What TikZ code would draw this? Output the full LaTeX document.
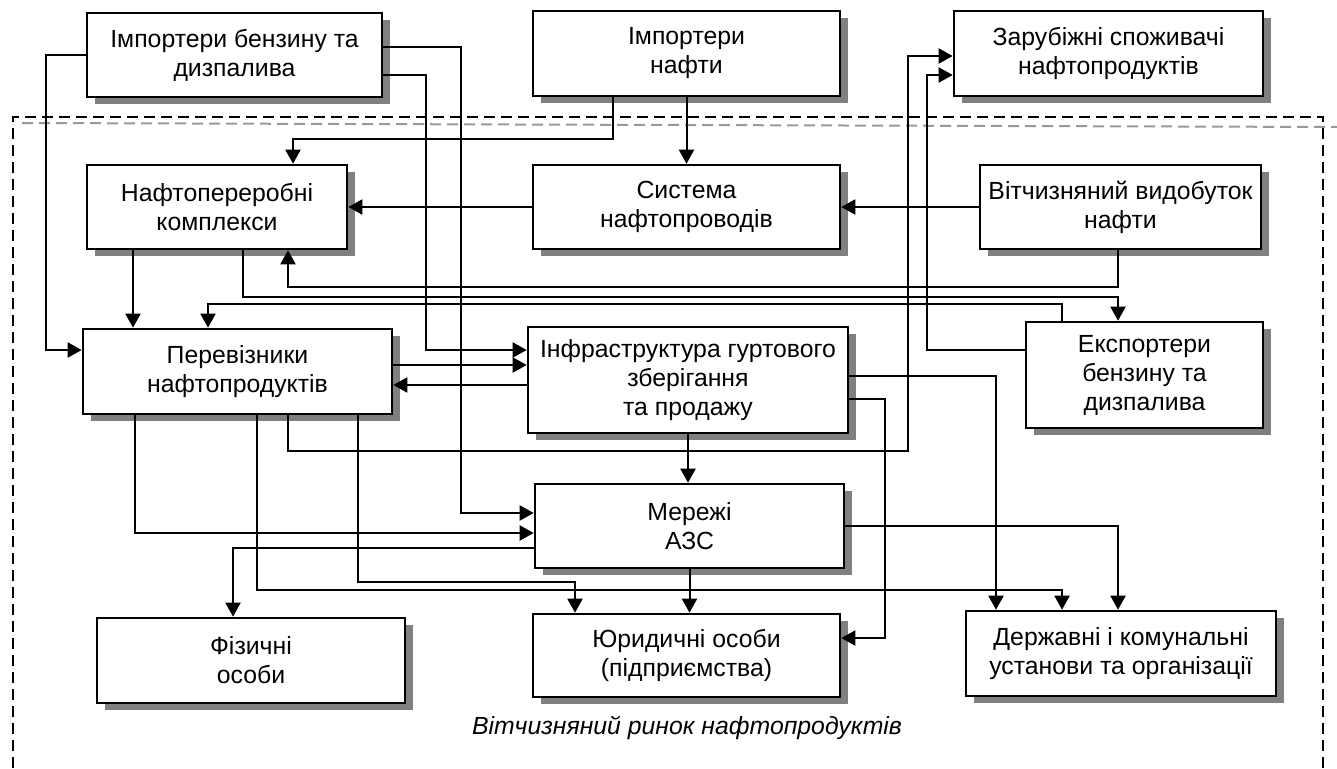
\documentclass[tikz,border=0pt]{standalone}
\usepackage{fontspec}
\setmainfont{Liberation Sans}
\usetikzlibrary{arrows.meta,shadows}

\begin{document}
\begin{tikzpicture}[%
      x=1pt, y=-1pt,
      every node/.style={align=center, font={\fontsize{24.8}{29}\selectfont}},
      unit/.style={draw, line width=2.6pt, fill=white, inner sep=2pt,
                   drop shadow={shadow xshift=8pt, shadow yshift=-7pt,
                                fill=black!50, opacity=1}},
      link/.style={line width=2pt, -{Triangle[length=14pt,width=15pt]}},
      marketframe/.style={line width=2pt, dash pattern=on 11pt off 6pt}
    ]
    \useasboundingbox (0,0) rectangle (1337,768);
    % market frame
    \draw [marketframe] (13,768) -- (13,117) -- (1323,117) -- (1323,768);
    \draw [marketframe, black!40] (22,123) -- (1337,127);

    \node [unit, minimum width=295pt, minimum height=84pt] (IB) at (234.5,55)
     {Імпортери бензину та\\дизпалива};
    \node [unit, minimum width=307pt, minimum height=85pt] (IN) at (686.5,53.5)
     {Імпортери\\нафти};
    \node [unit, minimum width=309pt, minimum height=85pt] (ZS) at (1108.5,53.5)
     {Зарубіжні споживачі\\нафтопродуктів};
    \node [unit, minimum width=260pt, minimum height=84pt] (NK) at (217,207)
     {Нафтопереробні\\комплекси};
    \node [unit, minimum width=307pt, minimum height=84pt] (SN) at (686.5,207)
     {Система\\нафтопроводів};
    \node [unit, minimum width=281pt, minimum height=84pt] (VV) at (1120.5,207)
     {Вітчизняний видобуток\\нафти};
    \node [unit, minimum width=309pt, minimum height=85pt] (PN) at (237.5,371.5)
     {Перевізники\\нафтопродуктів};
    \node [unit, minimum width=320pt, minimum height=106pt] (IG) at (688,380)
     {Інфраструктура гуртового\\зберігання\\та продажу};
    \node [unit, minimum width=237pt, minimum height=106pt] (EB) at (1144.5,375)
     {Експортери\\бензину та\\дизпалива};
    \node [unit, minimum width=309pt, minimum height=84pt] (MA) at (689.5,526)
     {Мережі\\АЗС};
    \node [unit, minimum width=308pt, minimum height=85pt] (FO) at (251,660.5)
     {Фізичні\\особи};
    \node [unit, minimum width=307pt, minimum height=83pt] (YO) at (686.5,655.5)
     {Юридичні особи\\(підприємства)};
    \node [unit, minimum width=310pt, minimum height=85pt] (DK) at (1121,653.5)
     {Державні і комунальні\\установи та організації};
    \node [font={\fontsize{24.8}{29}\selectfont\itshape}] (market) at (687,728)
     {Вітчизняний ринок нафтопродуктів};

    \draw [link] (IB.west) -- ++(-40,0) |- ([yshift=21.5pt]PN.west);
    \draw [link] ([yshift=8pt]IB.east) -- ++(78,0) |- ([yshift=13pt]MA.west);
    \draw [link] ([yshift=-20pt]IB.east) -- ++(43,0) |- ([yshift=30pt]IG.west);
    \draw [link] ([xshift=-73.5pt]IN.south) -- ++(0,42) -| ([xshift=76pt]NK.north);
    \draw [link] (IN.south) -- (SN.north);
    \draw [link] (SN.west) -- (NK.east);
    \draw [link] (VV.west) -- (SN.east);
    \draw [link] ([xshift=-2.5pt]VV.south) -- ++(0,37) -| ([xshift=71pt]NK.south);
    \draw [link] ([xshift=-84pt]NK.south) -- ([xshift=-84pt]NK.south |- PN.north);
    \draw [link] ([xshift=26pt]NK.south) -- ++(0,47) -| ([xshift=-26.5pt]EB.north);
    \draw [link] ([xshift=-82.5pt]EB.north) -- ++(0,-17) -| ([xshift=-29.5pt]PN.north);
    \draw [link] ([yshift=25pt]EB.west) -- ++(-98,0) |- ([yshift=-21.5pt]ZS.west);
    \draw [link] ([xshift=50.5pt]PN.south) -- ++(0,36) -- ++(620,0)
     |- ([yshift=-2.5pt]ZS.west);
    \draw [link] ([yshift=6.5pt]PN.east) -- ([yshift=15pt]IG.west);
    \draw [link] ([yshift=-5pt]IG.west) -- ([yshift=-13.5pt]PN.east);
    \draw [link] (IG.south) -- (IG.south |- MA.north);
    \draw [link] ([yshift=4pt]IG.east) -| ([xshift=-125pt]DK.north);
    \draw [link] ([yshift=-19pt]IG.east) -- ++(36,0) |- ([yshift=17.5pt]YO.east);
    \draw [link] (MA.east) -| ([xshift=-3pt]DK.north);
    \draw [link] (MA.south) -- (MA.south |- YO.north);
    \draw [link] ([yshift=-22pt]MA.west) -| ([xshift=-18pt]FO.north);
    \draw [link] ([xshift=-102.5pt]PN.south) |- ([yshift=-7pt]MA.west);
    \draw [link] ([xshift=19.5pt]PN.south) -- ++(0,175) -| ([xshift=-59pt]DK.north);
    \draw [link] ([xshift=120.5pt]PN.south) -- ++(0,167) -| ([xshift=-111.5pt]YO.north);
\end{tikzpicture}
\end{document}
